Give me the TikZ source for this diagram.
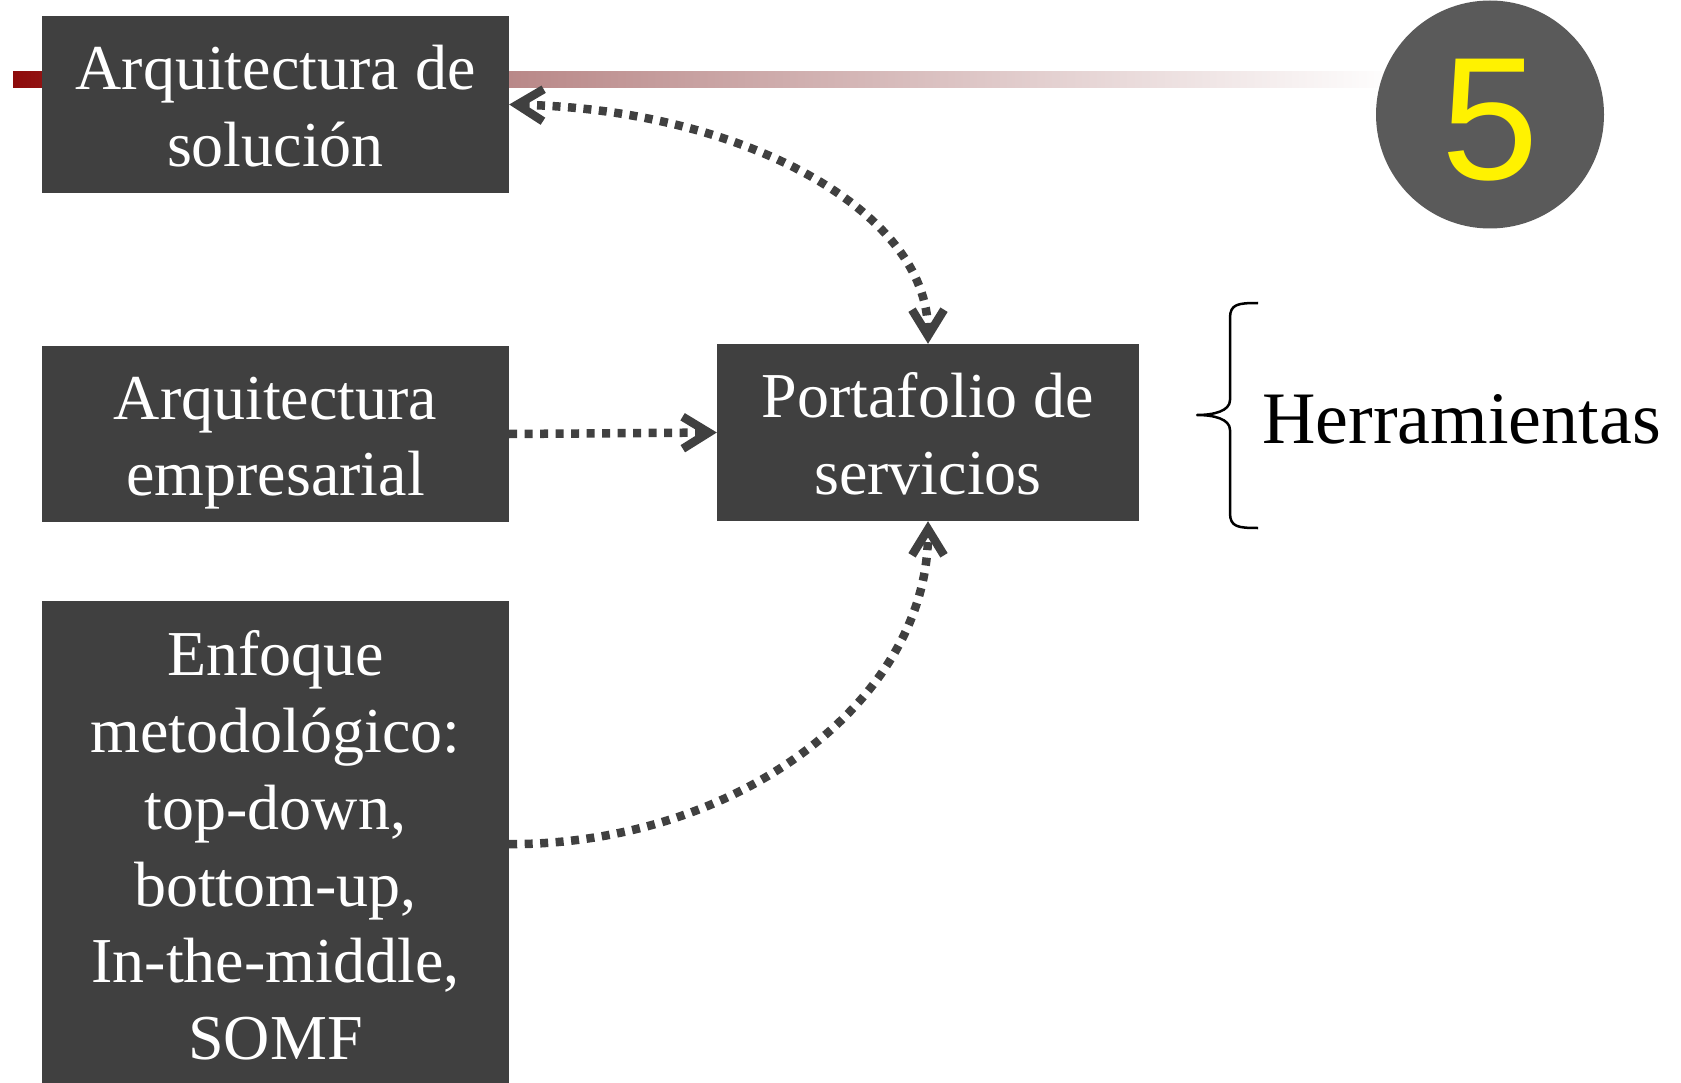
\documentclass[tikz,border=0pt]{standalone}
\usepackage{fontspec}
\setmainfont{Liberation Serif}
\newfontfamily\numfont{Liberation Sans}
\usetikzlibrary{arrows.meta}
\definecolor{boxgray}{HTML}{404040}
\definecolor{circgray}{HTML}{5A5A5A}
\definecolor{lineA}{HTML}{8E0B0B}
\definecolor{lineB}{HTML}{B98888}
\definecolor{arrowgray}{HTML}{404040}
\newcommand\myTop{\rule{0pt}{62pt}}
\newcommand\myBot{\rule[-15pt]{0pt}{15pt}}
\begin{document}
\begin{tikzpicture}[x=1pt,y=1pt,
  box/.style={fill=boxgray, text=white, align=center, inner sep=0pt,
    minimum width=467pt, font=\fontsize{64pt}{76.8pt}\selectfont},
  link/.style={draw=arrowgray, line width=8.5pt, dash pattern=on 8pt off 7.5pt},
  barb/.tip={Straight Barb[length=26pt,width=32pt]},
  fivetext/.style={text=yellow, inner sep=0pt, font=\numfont\fontsize{175pt}{175pt}\selectfont},
  bigtext/.style={inner sep=0pt, font=\fontsize{74pt}{88pt}\selectfont}
]
\path[use as bounding box, clip] (0,0) rectangle (1681,-1083);
% gradient band
\fill[left color=lineA, right color=lineB] (13,-72) rectangle (509,-88);
\fill[left color=lineB, right color=white] (509,-72) rectangle (1400,-88);
% boxes
\node[box, minimum height=177pt] (sol) at (275.5,-104.5) {\myTop Arquitectura de\\solución\myBot};
\node[box, minimum height=176pt] (emp) at (275.5,-434) {\myTop Arquitectura\\empresarial\myBot};
\node[box, minimum width=422pt, minimum height=177pt] (port) at (928,-432.5) {\myTop Portafolio de\\servicios\myBot};
\node[box, minimum height=486pt, anchor=north] (enf) at (275.5,-601) {\myTop Enfoque\\metodológico:\\top-down,\\bottom-up,\\In-the-middle,\\SOMF\myBot};
% number circle
\node[circle, fill=circgray, minimum size=228pt, inner sep=0pt] (five) at (1490,-114.5) {};
\node[fivetext] (fivelbl) at ([yshift=-6pt]five.center) {5};
% connectors
\draw[link, barb-barb] (sol.east) .. controls +(230,-5) and +(0,135) .. (port.north);
\draw[link, -barb] (emp.east) -- (port.west);
\draw[link, -barb] (enf.east) .. controls +(231,0) and +(0,-178) .. (port.south);
% brace
\draw[line width=2.5pt, line join=round] (1258,-303) .. controls (1238,-303) and (1230,-304) .. (1230,-318)
  -- (1230,-400) .. controls (1230,-411) and (1214,-415) .. (1197,-415)
  .. controls (1214,-415) and (1230,-419) .. (1230,-430)
  -- (1230,-513) .. controls (1230,-527) and (1238,-528) .. (1258,-528);
\node[bigtext, anchor=base west] (herr) at (1262,-443) {Herramientas};
\end{tikzpicture}
\end{document}
